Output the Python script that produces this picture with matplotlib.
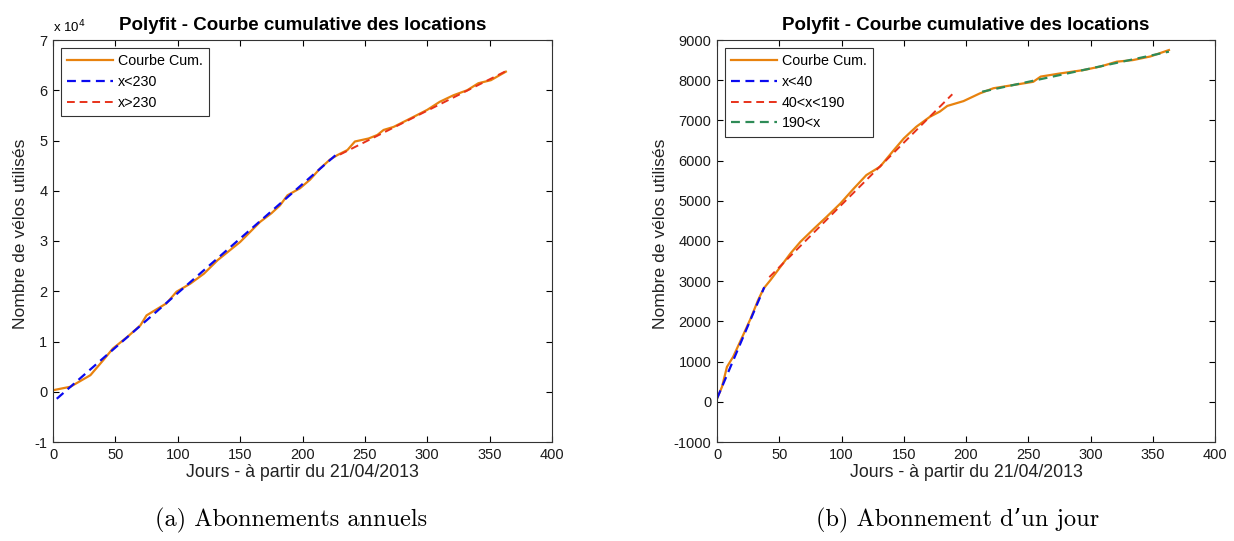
import matplotlib.pyplot as plt
import numpy as np

plt.rcParams['font.family'] = ['Liberation Sans', 'DejaVu Sans']
plt.rcParams['axes.unicode_minus'] = False

# (a) annual subscriptions, cumulative rentals (units of 1e4)
jours_a = [0, 14, 30, 40, 48, 60, 70, 75, 91, 99, 110, 121, 132, 140, 150, 158, 166, 175,
           182, 188, 198, 206, 214, 222, 228, 236, 242, 253, 260, 265, 273, 289, 300, 310,
           321, 332, 341, 351, 363]
cum_a = [0.03, 0.10, 0.33, 0.62, 0.86, 1.10, 1.32, 1.52, 1.76, 1.99, 2.15, 2.35, 2.62, 2.78,
         2.98, 3.18, 3.38, 3.55, 3.71, 3.91, 4.05, 4.22, 4.44, 4.62, 4.71, 4.81, 4.98, 5.04,
         5.11, 5.21, 5.27, 5.47, 5.61, 5.77, 5.90, 6.00, 6.14, 6.20, 6.37]
fit1_x_a = [3, 228]
fit1_y_a = [-0.14, 4.74]
fit2_x_a = [230, 363]
fit2_y_a = [4.72, 6.38]

# (b) one-day subscriptions
jours_b = [0, 4, 8, 13, 21, 27, 33, 37.5, 43, 51, 59, 67, 78, 88, 99, 110, 120, 131, 142,
           150, 160, 171, 179, 185, 198, 211, 222, 238, 254, 260, 276, 294, 308, 321, 334,
           348, 363]
cum_b = [80, 370, 870, 1120, 1660, 2070, 2530, 2820, 3030, 3360, 3690, 3980, 4310, 4600,
         4930, 5310, 5640, 5850, 6260, 6550, 6840, 7090, 7220, 7360, 7480, 7670, 7800, 7880,
         7960, 8090, 8170, 8250, 8340, 8460, 8500, 8590, 8750]
fit1_x_b = [0, 38]
fit1_y_b = [80, 2850]
fit2_x_b = [42, 100, 189]
fit2_y_b = [3100, 4900, 7650]
fit3_x_b = [213, 363]
fit3_y_b = [7714, 8710]

orange = '#E8820E'
blue = '#0A0AF0'
red = '#E8321A'
green = '#2E8B57'
title = 'Polyfit - Courbe cumulative des locations'
xlab = 'Jours - à partir du 21/04/2013'
ylab = 'Nombre de vélos utilisés'

fig = plt.figure(figsize=(12.34, 5.41), dpi=100)
ax1 = fig.add_axes([53/1234, 1 - 442/541, 499/1234, 402/541])
ax2 = fig.add_axes([717/1234, 1 - 442/541, 498/1234, 402/541])

dash = (0, (4, 2.5))

ax1.plot(jours_a, cum_a, color=orange, lw=1.6, label='Courbe Cum.')
ax1.plot(fit1_x_a, fit1_y_a, color=blue, lw=1.6, ls=dash, label='x<230')
ax1.plot(fit2_x_a, fit2_y_a, color=red, lw=1.4, ls=dash, label='x>230')
ax1.set_ylim(-1, 7)
ax1.set_yticks(np.arange(-1, 8, 1))
ax1.text(0.0, 1.012, r'x 10$^4$', transform=ax1.transAxes, fontsize=9.5, ha='left', va='bottom')

ax2.plot(jours_b, cum_b, color=orange, lw=1.6, label='Courbe Cum.')
ax2.plot(fit1_x_b, fit1_y_b, color=blue, lw=1.6, ls=dash, label='x<40')
ax2.plot(fit2_x_b, fit2_y_b, color=red, lw=1.4, ls=dash, label='40<x<190')
ax2.plot(fit3_x_b, fit3_y_b, color=green, lw=1.6, ls=dash, label='190<x')
ax2.set_ylim(-1000, 9000)
ax2.set_yticks(np.arange(-1000, 9001, 1000))

for ax in (ax1, ax2):
    ax.set_xlim(0, 400)
    ax.set_xticks(np.arange(0, 401, 50))
    ax.tick_params(direction='in', top=True, right=True, length=4, labelsize=10.5, pad=4,
                   labelcolor='#1a1a1a')
    ax.set_title(title, fontsize=13.5, fontweight='bold', pad=7)
    ax.set_xlabel(xlab, fontsize=12.8, color='#222222', labelpad=2)
    ax.set_ylabel(ylab, fontsize=12.6, color='#222222')
    for s in ax.spines.values():
        s.set_linewidth(0.8)
        s.set_color('#333333')
    leg = ax.legend(loc='upper left', fontsize=10.3, frameon=True, fancybox=False,
                    edgecolor='black', handlelength=3.2, handletextpad=0.35,
                    borderpad=0.45, labelspacing=0.47, borderaxespad=0.54)
    leg.get_frame().set_linewidth(0.8)

ax1.yaxis.set_label_coords(-0.050, 0.517)
ax2.yaxis.set_label_coords(-0.098, 0.517)

fig.text(291/1234, 1 - 520/541, '(a) Abonnements annuels', family='cmr10',
         fontsize=17.5, ha='center', va='center')
fig.text(958/1234, 1 - 520/541, '(b) Abonnement d\u2019un jour', family=['cmr10', 'DejaVu Serif'],
         fontsize=17.5, ha='center', va='center')

fig.savefig('out.png', dpi=100)
